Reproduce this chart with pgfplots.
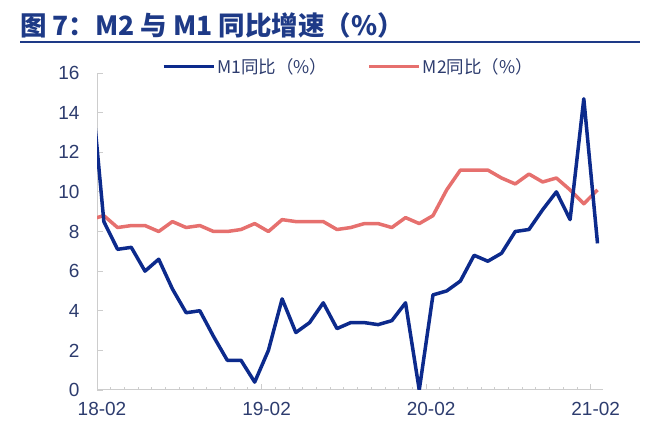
\documentclass[border=0pt]{standalone}
\usepackage{pgfplots}
\pgfplotsset{compat=1.18}
\usepackage{fontspec}
\setmainfont{Liberation Sans}
\newfontfamily\cjk{Noto Sans CJK SC}
\definecolor{mone}{RGB}{12,42,140}
\definecolor{mtwo}{RGB}{230,112,110}
\definecolor{ttl}{RGB}{30,58,135}
\definecolor{lbl}{RGB}{45,60,110}
\definecolor{axl}{RGB}{205,205,205}

\begin{document}
\begin{tikzpicture}
\path[use as bounding box] (0,0) rectangle (660pt,430pt);
\node[anchor=west, text=ttl, font=\cjk\bfseries\fontsize{26.5}{30}\selectfont, inner sep=0pt] at (20pt,405pt) {图 7：M2 与 M1 同比增速（\%）};
\draw[ttl, line width=2pt] (20pt,388pt) -- (640pt,388pt);
\begin{axis}[
  at={(97pt,40pt)}, anchor=south west,
  scale only axis, width=506pt, height=317pt,
  xmin=0.5, xmax=37.4, ymin=0, ymax=16,
  axis lines*=left,
  axis line style={draw=axl, line width=1pt, -},
  xtick={0.5,12.5,24.5,36.5},
  xticklabels={18-02,19-02,20-02,21-02},
  minor xtick={1.5,2.5,...,36.5},
  ytick={0,2,...,16},
  tick align=inside,
  major tick length=6pt, minor tick length=3pt,
  tick style={draw=axl, line width=0.8pt},
  ticklabel style={font=\fontsize{19}{21}\selectfont, text=lbl},
  /pgf/number format/assume math mode=true,
  yticklabel style={xshift=-14pt},
  xticklabel style={yshift=-9pt, xshift=5pt},
  legend columns=2,
  legend style={at={(0.497,1.02)}, anchor=center, draw=none, fill=none,
    font=\cjk\fontsize{17.5}{20}\selectfont, text=lbl,
    /tikz/every even column/.append style={column sep=38pt}},
  legend image code/.code={\draw[#1] (0pt,0pt) -- (50pt,0pt);},
]
\addlegendimage{mone, line width=3.5pt}
\addlegendentry{M1同比（\%）}
\addlegendimage{mtwo, line width=3.5pt}
\addlegendentry{M2同比（\%）}
\addplot[mtwo, line width=3.5pt, line join=round, forget plot] coordinates {
(0,8.6)(1,8.8)(2,8.2)(3,8.3)(4,8.3)(5,8.0)(6,8.5)(7,8.2)(8,8.3)(9,8.0)
(10,8.0)(11,8.1)(12,8.4)(13,8.0)(14,8.6)(15,8.5)(16,8.5)(17,8.5)(18,8.1)(19,8.2)
(20,8.4)(21,8.4)(22,8.2)(23,8.7)(24,8.4)(25,8.8)(26,10.1)(27,11.1)(28,11.1)(29,11.1)
(30,10.7)(31,10.4)(32,10.9)(33,10.5)(34,10.7)(35,10.1)(36,9.4)(37,10.1)};
\addplot[mone, line width=3.5pt, line join=round, forget plot] coordinates {
(0,16.0)(1,8.5)(2,7.1)(3,7.2)(4,6.0)(5,6.6)(6,5.1)(7,3.9)(8,4.0)(9,2.7)
(10,1.5)(11,1.5)(12,0.4)(13,2.0)(14,4.6)(15,2.9)(16,3.4)(17,4.4)(18,3.1)(19,3.4)
(20,3.4)(21,3.3)(22,3.5)(23,4.4)(24,0.0)(25,4.8)(26,5.0)(27,5.5)(28,6.8)(29,6.5)
(30,6.9)(31,8.0)(32,8.1)(33,9.1)(34,10.0)(35,8.6)(36,14.7)(37,7.4)};
\end{axis}
\end{tikzpicture}
\end{document}
